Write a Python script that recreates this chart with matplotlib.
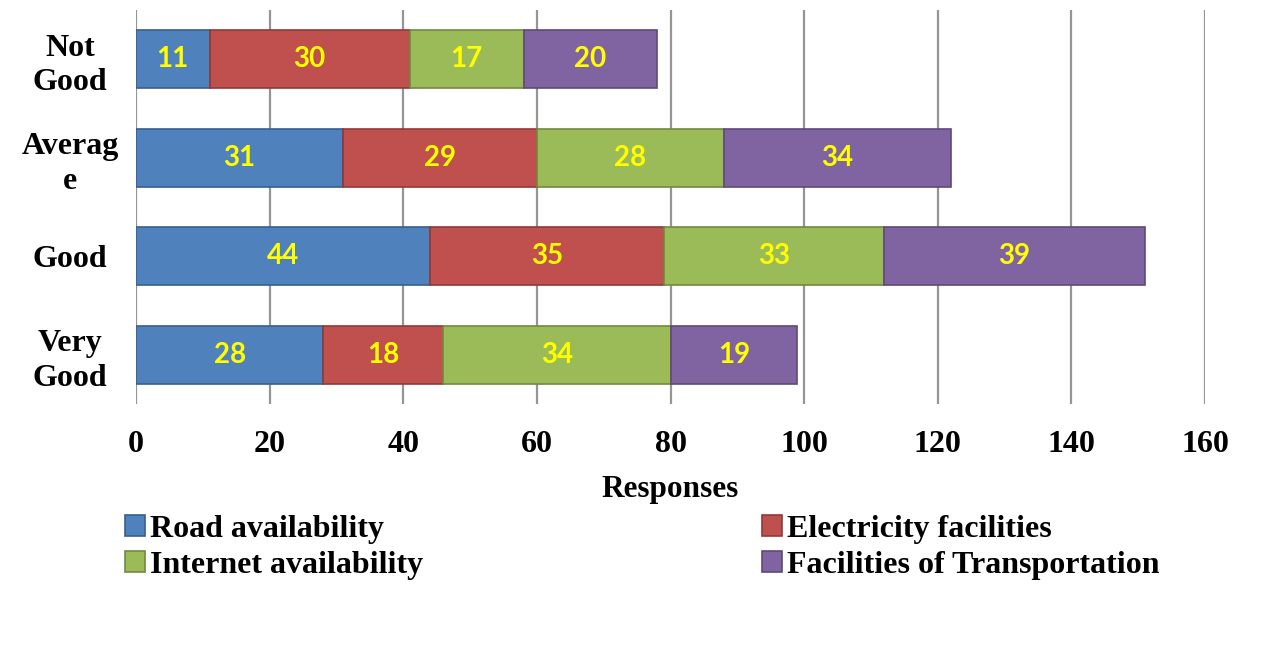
import matplotlib.pyplot as plt
import numpy as np

categories = ["Not\nGood", "Averag\ne", "Good", "Very\nGood"]
series_names = ["Road availability", "Electricity facilities",
                "Internet availability", "Facilities of Transportation"]
road = [11, 31, 44, 28]
electricity = [30, 29, 35, 18]
internet = [17, 28, 33, 34]
transport = [20, 34, 39, 19]

fills = ["#4F81BD", "#C0504D", "#9BBB59", "#8064A2"]
edges = ["#3A5F8B", "#8E3B39", "#72893F", "#5E4A78"]

fig = plt.figure(figsize=(12.69, 6.45), dpi=100)
ax = fig.add_axes([0.1072, 0.3736, 0.8424, 0.6109])

y = np.arange(len(categories))
left = np.zeros(len(categories))
bars = []
for vals, name, fc, ec in zip([road, electricity, internet, transport],
                              series_names, fills, edges):
    b = ax.barh(y, vals, left=left, height=0.59, color=fc, edgecolor=ec,
                linewidth=1.2, label=name, zorder=3)
    for yi, l, v in zip(y, left, vals):
        ax.text(l + v / 2, yi, str(v), ha="center", va="center",
                color="#FFFF00", fontsize=20, fontweight="bold",
                family="Lato", zorder=4)
    bars.append(b)
    left += np.array(vals)

ax.set_ylim(3.5, -0.5)
ax.set_xlim(0, 160)
ax.set_xticks(np.arange(0, 161, 20))
ax.set_yticks(y)
ax.set_yticklabels(categories, linespacing=1.25)
ax.grid(axis="x", color="#959595", linewidth=1.6, zorder=0)
for s in ax.spines.values():
    s.set_visible(False)
ax.tick_params(length=0, labelsize=23)
ax.tick_params(axis="x", pad=19)
for lab in ax.get_xticklabels() + ax.get_yticklabels():
    lab.set_family("Liberation Serif")
    lab.set_fontweight("bold")
for lab in ax.get_yticklabels():
    lab.set_ha("center")
    lab.set_x(-0.057)

ax.set_xlabel("Responses", family="Liberation Serif", fontweight="bold",
              fontsize=22.5, labelpad=11)

order = [0, 2, 1, 3]
leg = fig.legend([bars[i] for i in order], [series_names[i] for i in order],
                 ncol=2, loc="upper left", bbox_to_anchor=(0.0985, 0.2016),
                 frameon=False, handlelength=0.63, handleheight=0.63,
                 handletextpad=0.15, columnspacing=10.6, labelspacing=0.22,
                 borderaxespad=0, borderpad=0,
                 prop={"family": "Liberation Serif", "weight": "bold", "size": 23})

fig.savefig("out.png", dpi=100)
